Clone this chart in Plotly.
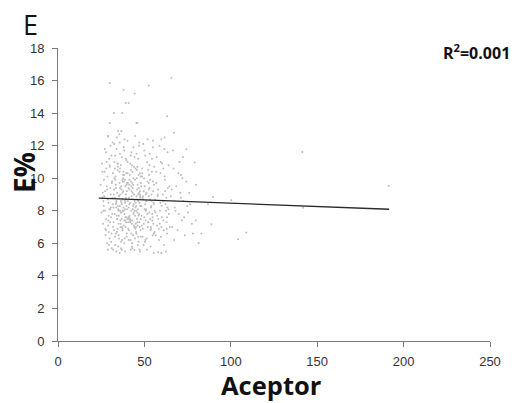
import plotly.graph_objects as go

# ---- data ----
acceptor_a = [25.1, 26.3, 27.0, 27.8, 28.4, 29.1, 29.6, 30.2, 30.8, 31.3, 31.9, 25.7, 26.8, 27.5, 28.9, 29.3, 30.5, 31.1, 31.7, 28.1,
              24.6, 26.0, 27.2, 28.6, 29.8, 30.4, 31.5, 25.9, 27.7, 29.0, 30.0, 31.0, 26.5, 28.2, 29.5, 30.7, 31.8, 27.4, 28.8, 30.9,
              25.4, 26.6, 27.9, 29.2, 30.3, 31.4, 28.5, 29.9, 30.6, 31.6, 26.2, 27.3, 28.0, 29.4, 30.1, 31.2, 25.8, 27.1, 29.7, 31.9]
eff_a = [7.9, 8.6, 10.4, 6.8, 9.3, 7.4, 11.2, 8.1, 6.1, 9.8, 7.0, 10.4, 8.9, 6.5, 12.6, 7.7, 9.0, 5.7, 8.4, 11.0,
         9.6, 7.2, 8.0, 10.1, 6.3, 12.0, 8.8, 9.1, 11.6, 7.1, 10.7, 6.6, 8.3, 9.5, 5.9, 7.6, 10.3, 6.9, 8.7, 11.4,
         10.9, 9.9, 7.5, 8.5, 9.4, 7.8, 6.0, 10.8, 8.2, 12.2, 8.0, 9.2, 10.6, 6.7, 7.3, 9.7, 8.8, 11.8, 8.1, 5.6]

acceptor_b = [32.1, 32.6, 33.0, 33.5, 34.0, 34.4, 34.9, 35.3, 35.8, 36.2, 36.7, 37.1, 37.6, 38.0, 38.5, 38.9, 39.3, 39.8, 32.9, 33.7,
              34.2, 35.0, 35.6, 36.4, 37.3, 38.2, 39.0, 39.6, 32.4, 33.2, 34.6, 35.5, 36.9, 37.8, 38.7, 39.4, 33.9, 36.0, 37.4, 38.4,
              32.8, 33.4, 34.7, 35.1, 36.6, 37.0, 38.1, 39.2, 39.9, 33.1, 34.3, 35.9, 36.3, 37.7, 38.6, 39.5, 32.3, 34.8, 36.8, 38.8,
              33.3, 34.1, 35.4, 36.1, 37.2, 38.3, 39.1, 32.5, 33.8, 35.2, 36.5, 37.9, 39.7, 34.5, 35.7, 37.5, 38.9, 32.7, 36.8, 39.3,
              32.2, 33.6, 34.9, 35.9, 36.4, 37.3, 38.5, 39.6, 33.0, 34.4, 35.6, 37.0, 38.2, 39.8, 32.9, 34.0, 36.2, 37.6, 38.7, 39.4,
              33.5, 35.0, 36.0, 37.1, 38.0, 39.0, 32.6, 34.2, 35.3, 36.7, 37.8, 38.4, 39.9, 33.7, 34.7, 36.3, 37.4, 38.8, 35.8, 39.2]
eff_b = [8.2, 12.1, 6.4, 9.6, 7.7, 10.9, 5.8, 8.9, 11.5, 7.0, 9.3, 6.2, 10.2, 8.0, 12.4, 7.4, 9.0, 6.6, 10.6, 8.5,
         9.1, 7.2, 10.4, 8.6, 6.9, 9.8, 7.6, 11.1, 6.8, 9.9, 8.3, 12.7, 5.6, 10.0, 8.1, 7.3, 11.8, 9.4, 8.7, 6.0,
         7.8, 8.4, 10.7, 6.5, 9.5, 11.3, 7.1, 8.8, 9.7, 5.9, 7.5, 8.0, 10.8, 9.2, 6.3, 10.3, 9.0, 12.9, 7.9, 8.5,
         10.1, 6.7, 8.9, 7.4, 9.9, 11.7, 7.0, 9.3, 8.6, 7.7, 6.1, 8.2, 9.6, 10.5, 12.2, 8.0, 5.5, 11.0, 7.5, 8.7,
         7.3, 9.4, 8.1, 10.6, 5.7, 9.1, 7.8, 8.3, 11.4, 6.9, 9.7, 8.4, 10.2, 6.4, 8.8, 12.5, 7.2, 9.8, 8.6, 7.6,
         6.6, 8.0, 9.0, 7.0, 11.9, 9.5, 10.0, 7.5, 6.3, 8.5, 10.4, 7.4, 9.2, 8.2, 10.9, 7.9, 6.8, 9.9, 8.3, 11.2]

acceptor_c = [40.1, 40.5, 40.9, 41.3, 41.8, 42.2, 42.6, 43.0, 43.5, 43.9, 44.3, 44.8, 45.2, 45.6, 46.1, 46.5, 46.9, 47.4, 47.8, 40.3,
              40.7, 41.1, 41.6, 42.0, 42.4, 42.9, 43.3, 43.7, 44.1, 44.6, 45.0, 45.4, 45.9, 46.3, 46.7, 47.2, 47.6, 40.2, 41.4, 42.7,
              43.1, 44.4, 45.7, 46.8, 47.9, 40.6, 41.9, 43.2, 44.5, 45.8, 47.0, 40.9, 42.1, 43.6, 44.9, 46.2, 47.5, 41.2, 42.5, 43.8,
              45.1, 46.4, 47.7, 40.4, 41.7, 42.8, 44.0, 45.3, 46.6, 47.3, 40.8, 42.3, 43.4, 44.7, 46.0, 47.1, 41.5, 42.9, 44.2, 45.5,
              46.8, 40.0, 41.0, 42.4, 43.7, 45.0, 46.1, 47.6, 41.8, 43.0, 44.3, 45.8, 47.2, 40.6, 42.0, 43.5, 45.6, 46.9, 41.3, 44.8,
              40.3, 41.6, 42.6, 43.9, 45.2, 46.4, 47.8, 42.2, 44.6, 46.7, 40.8, 43.3, 45.4, 47.0, 41.1, 44.0, 46.2, 42.8, 45.9, 47.4]
eff_c = [7.5, 9.7, 6.2, 8.4, 7.3, 10.5, 8.9, 5.7, 9.6, 7.9, 11.3, 8.2, 6.7, 10.0, 7.1, 8.6, 12.0, 9.2, 6.4, 11.0,
         7.6, 8.8, 10.2, 7.4, 9.5, 6.0, 8.1, 11.9, 7.0, 9.9, 8.5, 6.6, 10.7, 9.0, 7.7, 5.6, 8.3, 12.3, 9.3, 7.2,
         10.4, 8.0, 7.5, 9.4, 10.1, 6.9, 7.5, 9.1, 6.3, 8.7, 7.3, 8.2, 9.8, 7.8, 10.6, 5.9, 8.9, 9.6, 11.6, 8.4,
         7.0, 11.2, 6.8, 8.6, 7.4, 10.8, 9.0, 8.3, 6.1, 10.3, 9.4, 8.0, 6.5, 12.6, 7.9, 8.5, 7.7, 9.7, 5.6, 11.5,
         9.1, 8.1, 7.6, 6.6, 10.0, 7.2, 9.6, 8.8, 10.9, 7.4, 8.6, 9.3, 7.0, 7.3, 6.2, 8.3, 10.5, 7.8, 9.9, 6.9,
         10.3, 8.5, 9.2, 7.1, 8.0, 6.4, 7.5, 11.4, 7.7, 10.2, 7.5, 9.4, 8.9, 12.2, 6.8, 10.7, 8.1, 5.8, 7.3, 9.0]

acceptor_d = [48.2, 48.7, 49.1, 49.6, 50.0, 50.5, 50.9, 51.4, 51.8, 52.3, 52.7, 53.2, 53.6, 54.1, 54.5, 55.0, 55.4, 55.9, 48.5, 49.3,
              50.2, 51.1, 52.0, 52.9, 53.8, 54.7, 55.6, 48.9, 49.8, 50.7, 51.6, 52.5, 53.4, 54.3, 55.2, 48.0, 49.5, 51.0, 52.4, 53.9,
              55.3, 48.4, 49.9, 51.3, 52.8, 54.2, 55.7, 49.0, 50.4, 51.9, 53.3, 54.8, 48.8, 50.3, 51.7, 53.0, 54.4, 55.8, 49.4, 52.1,
              50.8, 53.5, 55.1, 48.6, 51.5, 54.0, 49.7, 52.6, 55.5, 50.1, 53.1, 54.6, 48.1, 51.2, 52.2, 53.7, 49.2, 50.6, 54.9, 55.0]
eff_d = [8.3, 10.6, 6.9, 9.2, 7.6, 11.4, 8.0, 6.3, 9.8, 7.3, 10.2, 8.7, 5.8, 9.0, 7.8, 11.9, 8.4, 6.7, 7.1, 12.1,
         9.5, 8.6, 7.0, 10.8, 8.2, 6.5, 9.6, 8.8, 10.0, 7.4, 11.0, 8.9, 7.5, 10.4, 7.2, 9.7, 5.9, 8.1, 9.3, 6.9,
         8.5, 7.7, 11.7, 9.1, 7.9, 8.6, 10.7, 6.4, 8.4, 12.4, 9.9, 7.6, 10.3, 6.1, 7.8, 9.4, 11.2, 8.0, 8.7, 7.3,
         9.0, 6.8, 9.2, 10.1, 5.6, 8.3, 7.2, 9.7, 6.6, 8.1, 11.5, 7.4, 9.5, 8.6, 10.5, 7.0, 8.9, 6.2, 9.8, 12.3]

acceptor_e = [56.2, 56.8, 57.3, 57.9, 58.4, 59.0, 59.5, 60.1, 60.6, 61.2, 61.7, 62.3, 62.8, 63.4, 63.9, 64.5, 56.5, 57.6, 58.7, 59.8,
              60.9, 62.0, 63.1, 64.2, 56.9, 58.0, 59.2, 60.3, 61.4, 62.5, 63.6, 64.7, 57.1, 58.3, 60.0, 61.9, 63.0, 56.3, 59.6, 62.7,
              57.7, 59.3, 61.0, 62.9, 64.0, 58.9, 60.7, 63.3, 57.4, 61.6]
eff_e = [8.7, 10.4, 7.1, 9.3, 6.2, 8.0, 11.0, 7.6, 9.0, 6.8, 10.1, 8.4, 7.3, 11.6, 8.1, 9.5, 6.5, 8.9, 12.0, 7.0,
         10.6, 9.2, 6.6, 7.8, 9.7, 7.5, 8.5, 10.9, 5.9, 8.0, 9.4, 7.0, 11.3, 6.9, 8.3, 9.9, 7.6, 7.9, 6.4, 8.8,
         9.0, 10.3, 7.4, 6.9, 10.8, 7.2, 8.6, 8.2, 7.7, 11.8]

acceptor_f = [65.3, 66.1, 66.9, 67.6, 68.4, 69.2, 70.0, 70.8, 71.7, 72.5, 73.4, 74.2, 75.3, 76.4, 77.5, 66.5, 68.0, 69.6, 71.2, 73.0,
              65.8, 67.2, 70.4, 72.0, 74.8]
eff_f = [8.9, 7.0, 10.6, 8.2, 9.5, 6.8, 7.8, 9.1, 7.4, 8.6, 6.5, 9.8, 7.9, 8.4, 7.2, 11.7, 8.0, 10.3, 8.8, 7.6,
         9.3, 6.2, 11.0, 10.0, 8.3]

acceptor_out = [30.0, 38.0, 44.4, 52.5, 65.6, 39.2, 40.9, 32.4, 37.2, 63.1, 45.4, 46.0, 30.0, 67.1, 28.9, 59.8, 61.7, 36.6, 74.3, 72.3,
                79.1, 141.4, 191.4, 71.1, 79.8, 76.0, 89.7, 86.8, 100.3, 141.8, 79.7, 88.8, 78.1, 109.0, 104.2, 81.4, 83.0, 35.7, 55.4, 59.8,
                28.9, 33.8, 42.0, 47.5, 58.0, 62.5]
eff_out = [15.85, 15.44, 15.2, 15.69, 16.18, 14.62, 14.62, 14.0, 14.0, 13.8, 13.4, 13.4, 13.4, 12.8, 12.56, 12.4, 12.5, 12.9, 11.78, 11.3,
           10.96, 11.61, 9.52, 10.2, 9.6, 9.1, 8.85, 8.4, 8.64, 8.19, 7.41, 7.17, 6.6, 6.66, 6.25, 6.02, 6.6, 5.4, 5.4, 5.4,
           5.6, 5.5, 5.6, 5.5, 5.45, 5.5]

trend_x = [23.6, 191.6]
trend_y = [8.78, 8.09]

x_ticks = [0, 50, 100, 150, 200, 250]
y_ticks = [0, 2, 4, 6, 8, 10, 12, 14, 16, 18]

acceptor = acceptor_a + acceptor_b + acceptor_c + acceptor_d + acceptor_e + acceptor_f + acceptor_out
eff = eff_a + eff_b + eff_c + eff_d + eff_e + eff_f + eff_out

fig = go.Figure()
fig.add_trace(go.Scatter(x=acceptor, y=eff, mode="markers",
                         marker=dict(size=2, color="#bdbdbd", line=dict(width=0)),
                         showlegend=False, hoverinfo="skip"))
fig.add_trace(go.Scatter(x=trend_x, y=trend_y, mode="lines",
                         line=dict(color="#2a2a2a", width=1.4),
                         showlegend=False, hoverinfo="skip"))

axis_common = dict(showgrid=False, zeroline=False, showline=True, linecolor="#7a7a7a", linewidth=1,
                   ticks="outside", ticklen=5, tickcolor="#7a7a7a", tickwidth=1,
                   tickfont=dict(family="Liberation Sans, Arial", size=13, color="#333333"))

fig.update_xaxes(range=[0, 250], tickvals=x_ticks, ticklabelstandoff=3, **axis_common)
fig.update_yaxes(range=[0, 18], tickvals=y_ticks, ticklabelstandoff=5, **axis_common)

PW, PH = 432, 293  # plot area size in px (left 58, top 48)

fig.update_layout(
    width=521, height=403,
    margin=dict(l=58, r=31, t=48, b=62),
    paper_bgcolor="white", plot_bgcolor="white",
    annotations=[
        dict(text="E", xref="paper", yref="paper", x=(21 - 58) / PW, y=(341 - 25) / PH, showarrow=False,
             xanchor="left", yanchor="middle",
             font=dict(family="Open Sans", size=27, color="#111111")),
        dict(text="E%", xref="paper", yref="paper", x=(24 - 58) / PW, y=(341 - 173) / PH, showarrow=False,
             xanchor="center", yanchor="middle", textangle=-90,
             font=dict(family="Open Sans", size=28, color="#111111", weight="bold")),
        dict(text="Aceptor", xref="paper", yref="paper", x=(271.5 - 58) / PW, y=(341 - 385) / PH, showarrow=False,
             xanchor="center", yanchor="middle", borderpad=0,
             font=dict(family="Open Sans", size=25.5, color="#111111", weight="bold")),
        dict(text="R<sup>2</sup>=0.001", xref="paper", yref="paper", x=(512 - 58) / PW, y=(341 - 52) / PH,
             showarrow=False, xanchor="right", yanchor="middle",
             font=dict(family="Open Sans", size=16, color="#111111", weight="bold")),
    ],
)

fig.write_html("out.html")
